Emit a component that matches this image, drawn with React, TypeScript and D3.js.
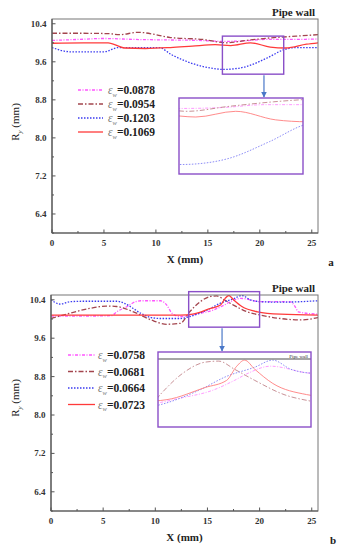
import React from "react";
import * as d3 from "d3";

type Pt = [number, number];

// ---- panel a ----
const a0878: Pt[] = [[0, 10.05], [2.5, 10.07], [5, 10.09], [8, 10.07], [11, 10.06], [14, 10.05], [16.5, 10.03], [18.5, 10.04], [20.5, 10.07], [23, 10.07], [25.6, 10.08]];
const a0954: Pt[] = [[0, 10.2], [3, 10.2], [5.6, 10.19], [6.5, 10.17], [8.3, 10.22], [10, 10.17], [11.4, 10.11], [14.5, 10.07], [16.8, 10.0], [18.7, 10.05], [20.9, 10.1], [23.5, 10.14], [25.6, 10.17]];
const a1203: Pt[] = [[0, 9.9], [1.8, 9.81], [5, 9.81], [6.4, 9.9], [10.3, 9.9], [11.5, 9.75], [13.3, 9.58], [15.5, 9.46], [16.5, 9.44], [17.8, 9.46], [18.7, 9.5], [20.7, 9.68], [22.4, 9.86], [23.5, 9.9], [25.6, 9.9]];
const a1069: Pt[] = [[0, 9.99], [3, 10.0], [5.4, 10.0], [7, 9.89], [9, 9.88], [11.4, 9.9], [13.5, 9.93], [15.7, 9.96], [17.2, 9.94], [19.1, 10.0], [21, 9.91], [22.5, 9.89], [24.5, 9.97], [25.6, 10.0]];
const seriesA = [a0878, a0954, a1203, a1069];
const labelsA = ["0.0878", "0.0954", "0.1203", "0.1069"];

// ---- panel b ----
const b0758: Pt[] = [[0, 10.06], [3, 10.06], [5.8, 10.07], [6.3, 10.15], [7.3, 10.26], [8.1, 10.36], [8.6, 10.38], [10.5, 10.38], [11.1, 10.29], [11.6, 10.12], [12.4, 10.05], [14.3, 10.12], [15.6, 10.19], [16.6, 10.29], [17.2, 10.36], [18.2, 10.43], [20.1, 10.36], [22.9, 10.36], [23.4, 10.26], [23.7, 10.15], [25.6, 10.1]];
const b0681: Pt[] = [[0, 10.01], [1.8, 10.12], [3.7, 10.22], [5.3, 10.27], [6.3, 10.26], [7.9, 10.15], [9.6, 9.98], [11.1, 9.89], [12.4, 9.91], [13.3, 10.15], [14.3, 10.36], [15.3, 10.47], [15.9, 10.48], [16.6, 10.4], [17.5, 10.29], [18.8, 10.15], [20.1, 10.08], [22, 10.01], [23.9, 9.98], [25.6, 10.03]];
const b0664: Pt[] = [[0, 10.4], [0.9, 10.31], [1.8, 10.36], [3.1, 10.37], [6.3, 10.37], [7, 10.33], [7.6, 10.26], [8.6, 10.12], [9.6, 10.03], [10.5, 10.01], [12.4, 10.01], [13.3, 10.05], [15, 10.19], [16.25, 10.33], [17.5, 10.42], [18.3, 10.49], [19.1, 10.4], [20.1, 10.36], [22, 10.35], [25.6, 10.38]];
const b0723: Pt[] = [[0, 10.08], [5, 10.08], [10, 10.08], [12.4, 10.08], [13.6, 10.1], [15.3, 10.22], [16.25, 10.29], [16.7, 10.43], [17.05, 10.49], [17.5, 10.4], [18.3, 10.26], [19.8, 10.15], [22, 10.1], [25.6, 10.08]];
const seriesB = [b0758, b0681, b0664, b0723];
const labelsB = ["0.0758", "0.0681", "0.0664", "0.0723"];

const xTicks = [0, 5, 10, 15, 20, 25];
const xMinor = [2.5, 7.5, 12.5, 17.5, 22.5];
const yTicks = [6.4, 7.2, 8.0, 8.8, 9.6, 10.4];
const yMinor = [6.0, 6.8, 7.6, 8.4, 9.2, 10.0];

const styles = [
  { color: "#ff55ff", dash: "3,1.5,1,1.5" },
  { color: "#a3454e", dash: "5,2,1.5,2" },
  { color: "#3b3bf0", dash: "1.5,1.5" },
  { color: "#ff3a3a", dash: "" },
];

const FONT = "'Liberation Serif', 'Times New Roman', serif";
const PURPLE = "#8a4fc8";
const ARROW = "#4a78c8";

type PanelProps = {
  id: string;
  frame: { left: number; right: number; top: number; bottom: number };
  series: Pt[][];
  labels: string[];
  legend: { x0: number; x1: number; tx: number; y0: number; dy: number };
  win: { x: [number, number]; y: [number, number] };
  inset: { left: number; right: number; top: number; bottom: number };
  arrowX: number;
  insetWall: boolean;
  letter: string;
  letterX: number;
  yLabelY: number;
};

function Panel(p: PanelProps) {
  const { frame, inset, win } = p;
  const x = d3.scaleLinear().domain([0, 25.6]).range([frame.left, frame.right]);
  const y = d3.scaleLinear().domain([6.0, 10.5]).range([frame.bottom, frame.top]);
  const line = d3
    .line<Pt>()
    .x((d) => x(d[0]))
    .y((d) => y(d[1]))
    .curve(d3.curveMonotoneX);

  const ix = d3.scaleLinear().domain(win.x).range([inset.left, inset.right]);
  const iy = d3.scaleLinear().domain(win.y).range([inset.bottom, inset.top]);
  const iline = d3
    .line<Pt>()
    .x((d) => ix(d[0]))
    .y((d) => iy(d[1]))
    .curve(d3.curveMonotoneX);

  const fmt = d3.format(".1f");
  const ax = "#555";
  const ayMid = (frame.top + frame.bottom) / 2;

  return (
    <g fontFamily={FONT}>
      <defs>
        <clipPath id={`clip-${p.id}`}>
          <rect x={frame.left} y={frame.top} width={frame.right - frame.left} height={frame.bottom - frame.top} />
        </clipPath>
        <clipPath id={`iclip-${p.id}`}>
          <rect x={inset.left} y={inset.top} width={inset.right - inset.left} height={inset.bottom - inset.top} />
        </clipPath>
        <marker id={`arr-${p.id}`} viewBox="0 0 10 10" refX="9" refY="5" markerWidth="5" markerHeight="5" orient="auto">
          <path d="M0,0 L10,5 L0,10 z" fill={ARROW} />
        </marker>
      </defs>

      {/* curves */}
      <g clipPath={`url(#clip-${p.id})`}>
        {p.series.map((s, i) => (
          <path key={i} d={line(s) || ""} fill="none" stroke={styles[i].color} strokeWidth={1.3} strokeDasharray={styles[i].dash} />
        ))}
      </g>

      {/* frame */}
      <rect x={frame.left} y={frame.top} width={frame.right - frame.left} height={frame.bottom - frame.top} fill="none" stroke="#777" strokeWidth={1} />
      <line x1={frame.left} x2={frame.left} y1={frame.top} y2={frame.bottom} stroke={ax} strokeWidth={1.2} />
      <line x1={frame.left} x2={frame.right} y1={frame.bottom} y2={frame.bottom} stroke={ax} strokeWidth={1.2} />

      {/* x ticks */}
      {xTicks.map((t) => (
        <g key={t}>
          <line x1={x(t)} x2={x(t)} y1={frame.bottom} y2={frame.bottom - 3.5} stroke={ax} />
          <text x={x(t)} y={frame.bottom + 12.5} fontSize={9} fontWeight="bold" fill="#333" textAnchor="middle">
            {t}
          </text>
        </g>
      ))}
      {xMinor.map((t) => (
        <line key={t} x1={x(t)} x2={x(t)} y1={frame.bottom} y2={frame.bottom - 2} stroke={ax} />
      ))}

      {/* y ticks */}
      {yTicks.map((t) => (
        <g key={t}>
          <line x1={frame.left} x2={frame.left + 3.5} y1={y(t)} y2={y(t)} stroke={ax} />
          <text x={frame.left - 5.5} y={y(t) + 3} fontSize={9} fontWeight="bold" fill="#333" textAnchor="end">
            {fmt(t)}
          </text>
        </g>
      ))}
      {yMinor.map((t) => (
        <line key={t} x1={frame.left} x2={frame.left + 2} y1={y(t)} y2={y(t)} stroke={ax} />
      ))}

      {/* axis titles */}
      <text x={(frame.left + frame.right) / 2} y={frame.bottom + 29.5} fontSize={11} fontWeight="bold" fill="#222" textAnchor="middle">
        X (mm)
      </text>
      <text transform={`translate(19,${p.yLabelY}) rotate(-90)`} fontSize={11} fill="#222" textAnchor="middle">
        R
        <tspan fontSize={7} dy={2.5} fontStyle="italic">y</tspan>
        <tspan dy={-2.5}> (mm)</tspan>
      </text>
      <text x={315} y={frame.top - 3} fontSize={11} fontWeight="bold" fill="#222" textAnchor="end">
        Pipe wall
      </text>
      <text x={p.letterX} y={frame.bottom + 33} fontSize={11} fontWeight="bold" fill="#222" textAnchor="middle">
        {p.letter}
      </text>

      {/* legend */}
      {p.labels.map((lab, i) => {
        const ly = p.legend.y0 + i * p.legend.dy;
        return (
          <g key={lab}>
            <line x1={p.legend.x0} x2={p.legend.x1} y1={ly} y2={ly} stroke={styles[i].color} strokeWidth={1.3} strokeDasharray={styles[i].dash} />
            <text x={p.legend.tx} y={ly + 4} fontSize={11.5} fill="#222">
              <tspan fontStyle="italic" fill="#777">ε</tspan>
              <tspan fontSize={6.5} dy={2.5} fontStyle="italic" fill="#777">w</tspan>
              <tspan dy={-2.5} fontWeight="bold">={lab}</tspan>
            </text>
          </g>
        );
      })}

      {/* zoom window and arrow */}
      <rect
        x={x(win.x[0])}
        y={y(win.y[1])}
        width={x(win.x[1]) - x(win.x[0])}
        height={y(win.y[0]) - y(win.y[1])}
        fill="none"
        stroke={PURPLE}
        strokeWidth={1.4}
      />
      <line x1={x(p.arrowX)} x2={x(p.arrowX)} y1={y(win.y[0]) + 1} y2={inset.top - 1} stroke={ARROW} strokeWidth={1.2} markerEnd={`url(#arr-${p.id})`} />

      {/* inset */}
      <rect x={inset.left} y={inset.top} width={inset.right - inset.left} height={inset.bottom - inset.top} fill="#fff" />
      <g clipPath={`url(#iclip-${p.id})`} opacity={0.65}>
        {p.series.map((s, i) => (
          <path key={i} d={iline(s) || ""} fill="none" stroke={styles[i].color} strokeWidth={0.9} strokeDasharray={styles[i].dash} />
        ))}
      </g>
      {p.insetWall && (
        <g>
          <line x1={inset.left} x2={inset.right} y1={iy(10.5)} y2={iy(10.5)} stroke="#888" strokeWidth={1.5} />
          <text x={inset.right - 3} y={iy(10.5) - 1.5} fontSize={5} fill="#333" textAnchor="end">
            Pipe wall
          </text>
        </g>
      )}
      <rect x={inset.left} y={inset.top} width={inset.right - inset.left} height={inset.bottom - inset.top} fill="none" stroke={PURPLE} strokeWidth={1.4} />
      <text x={-100} y={ayMid}> </text>
    </g>
  );
}

export default function App() {
  return (
    <svg width={346} height={550} style={{ position: "absolute", left: 0, top: 0, background: "#fff" }}>
      <Panel
        id="a"
        frame={{ left: 52, right: 318, top: 19, bottom: 233 }}
        series={seriesA}
        labels={labelsA}
        legend={{ x0: 78, x1: 103, tx: 108, y0: 90, dy: 14 }}
        win={{ x: [16.4, 22.3], y: [9.34, 10.14] }}
        inset={{ left: 179, right: 303, top: 98, bottom: 174 }}
        arrowX={20.4}
        insetWall={false}
        letter="a"
        letterX={331}
        yLabelY={122}
      />
      <Panel
        id="b"
        frame={{ left: 51, right: 318, top: 295, bottom: 511 }}
        series={seriesB}
        labels={labelsB}
        legend={{ x0: 68, x1: 95, tx: 98, y0: 355, dy: 16.5 }}
        win={{ x: [13.2, 20.0], y: [9.83, 10.57] }}
        inset={{ left: 158, right: 311, top: 352, bottom: 427 }}
        arrowX={16.4}
        insetWall={true}
        letter="b"
        letterX={333}
        yLabelY={398}
      />
    </svg>
  );
}
